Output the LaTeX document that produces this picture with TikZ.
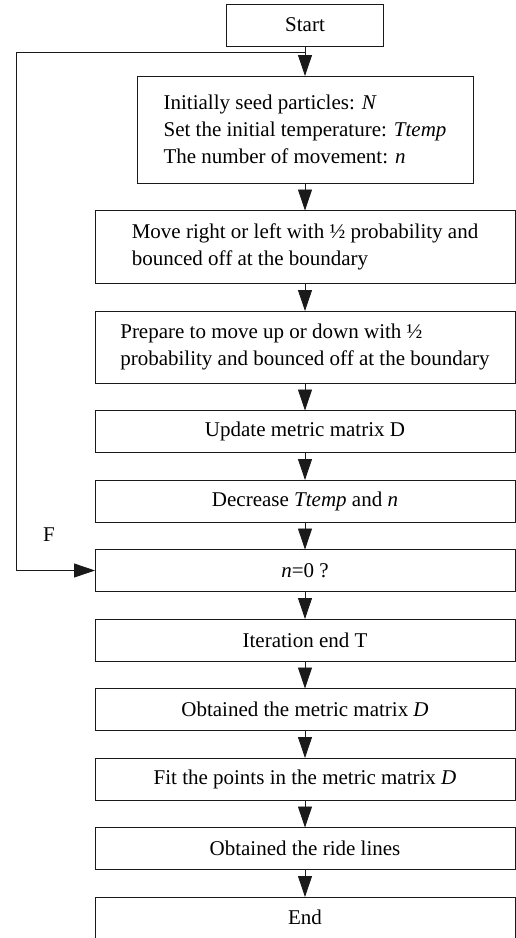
\documentclass[tikz,border=0pt]{standalone}
\usepackage{fontspec}
\setmainfont{Liberation Serif}
\usepackage{xcolor}
\usepackage{tikz}
\usetikzlibrary{arrows.meta,positioning}
\definecolor{blackmain}{HTML}{1A1A1A}
\tikzset{every node/.append style={font=\fontsize{21}{27}\selectfont}}
\tikzset{
  flowbox/.style={draw=blackmain,line width=.9pt,minimum width=420pt,minimum height=42pt,inner sep=0pt,outer sep=0pt,align=left},
  flowarrow/.style={-{Triangle[length=21pt,width=14pt]},blackmain,line width=.9pt}
}
\begin{document}
\begin{tikzpicture}[node distance=27.5pt]
\useasboundingbox (0,0) rectangle (516pt,-938pt);
\node[flowbox,minimum width=157pt] (start) at (305pt,-25pt) {Start};
\node[flowbox,minimum width=336pt,minimum height=107pt,below=30pt of start] (init) {Initially seed particles: \textit{N}\\Set the initial temperature: \textit{Ttemp}\\The number of movement: \textit{n}};
\node[flowbox,minimum height=73pt,below=of init] (move) {Move right or left with ½ probability and\\bounced off at the boundary};
\node[flowbox,minimum height=72pt,below=of move] (prep) {Prepare to move up or down with ½\\probability and bounced off at the boundary};
\node[flowbox,below=of prep] (update) {Update metric matrix D};
\node[flowbox,below=of update] (decr) {Decrease \textit{Ttemp} and \textit{n}};
\node[flowbox,below=of decr] (check) {\textit{n}=0 ?};
\node[flowbox,below=of check] (iter) {Iteration end T};
\node[flowbox,below=of iter] (obtain) {Obtained the metric matrix \textit{D}};
\node[flowbox,below=of obtain] (fit) {Fit the points in the metric matrix \textit{D}};
\node[flowbox,below=of fit] (ride) {Obtained the ride lines};
\node[flowbox,minimum height=41pt,below=of ride] (finish) {End};
\foreach \a/\b in {start/init,init/move,move/prep,prep/update,update/decr,decr/check,check/iter,iter/obtain,obtain/fit,fit/ride,ride/finish}
  \draw[flowarrow] (\a) -- (\b);
% loop back on F
\coordinate (tap) at (305pt,-52pt);
\coordinate (tapleft) at (16pt,-52pt);
\draw[flowarrow] (tap) -- (tapleft) |- (check.west);
\node (flabel) at (49pt,-535pt) {F};
\end{tikzpicture}
\end{document}
